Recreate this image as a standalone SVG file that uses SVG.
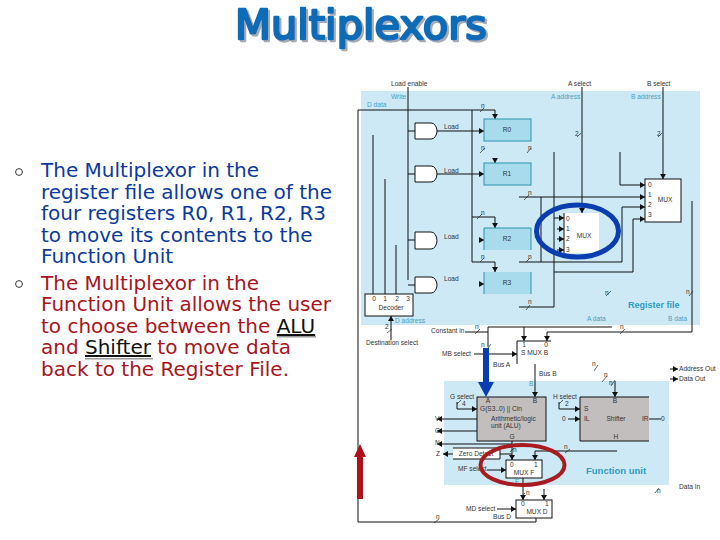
<svg xmlns="http://www.w3.org/2000/svg" width="720" height="540" viewBox="0 0 720 540">
<style>
.c{fill:none;stroke:#111;stroke-width:1}
.s{fill:none;stroke:#222;stroke-width:.7}
.gate{fill:#fff;stroke:#111;stroke-width:1}
.reg{fill:#a8dcec;stroke:#2a93a8;stroke-width:1}
.box{fill:#fff;stroke:#111;stroke-width:1}
.gray{fill:#c2bebe;stroke:#111;stroke-width:1}
.t{font-family:"Liberation Sans",Arial,sans-serif;font-size:6.6px;fill:#333}
.m{text-anchor:middle}
.b{fill:#4a9cc0}
.body{font-family:"DejaVu Sans",Verdana,sans-serif;font-size:20px}
.blue{fill:#0b3a9e}
.red{fill:#a8141c}
.bl{fill:none;stroke:#333;stroke-width:1}
.title{font-family:"DejaVu Sans",sans-serif;font-size:41px;stroke-linejoin:round;fill:#0f6cb8;stroke:#0f6cb8;stroke-width:2.4}
</style>
<defs>
<marker id="a" markerUnits="userSpaceOnUse" markerWidth="6" markerHeight="6" refX="5" refY="3" orient="auto"><path d="M0 0L5 3L0 6Z" fill="#111"/></marker>
<filter id="sh" x="-5%" y="-20%" width="110%" height="140%"><feDropShadow dx="2" dy="2" stdDeviation="0.6" flood-color="#a8acb0"/></filter>
</defs>
<rect width="720" height="540" fill="#fff"/>
<g id="title">
<text x="235" y="39" class="title" filter="url(#sh)" textLength="252" lengthAdjust="spacingAndGlyphs">Multiplexors</text>
</g>
<g id="bullets">
<circle cx="19" cy="172" r="3.4" class="bl"/><circle cx="19" cy="284" r="3.4" class="bl"/>
<rect x="277" y="336" width="39" height="1.500" fill="#999"/><rect x="85" y="358" width="68" height="1.500" fill="#999"/>
<text class="body blue" x="41" y="177">The Multiplexor in the</text>
<text class="body blue" x="41" y="199">register file allows one of the</text>
<text class="body blue" x="41" y="220">four registers R0, R1, R2, R3</text>
<text class="body blue" x="41" y="242">to move its contents to the</text>
<text class="body blue" x="41" y="263">Function Unit</text>
<text class="body red" x="41" y="290">The Multiplexor in the</text>
<text class="body red" x="41" y="311">Function Unit allows the user</text>
<text class="body red" x="41" y="333">to choose between the <tspan fill="#111" text-decoration="underline">ALU</tspan></text>
<text class="body red" x="41" y="354">and <tspan fill="#111" text-decoration="underline">Shifter</tspan> to move data</text>
<text class="body red" x="41" y="376">back to the Register File.</text>
</g>
<rect id="register-panel" x="361" y="91" width="339" height="234" fill="#cde9f6"/>
<rect id="function-panel" x="444" y="381" width="225" height="104" fill="#cde9f6"/>
<g id="connectors">
<path class="c" d="M408 87V280M408 131H415M408 174H415M408 240H415M408 285H415"/>
<path class="c" d="M495 110H358V522H536V518"/>
<path class="c" d="M472 110V262H495M472 217H495"/>
<path class="c" marker-end="url(#a)" d="M495 110V119"/><path class="c" marker-end="url(#a)" d="M495 158V163"/>
<path class="c" marker-end="url(#a)" d="M495 217V228"/><path class="c" marker-end="url(#a)" d="M495 262V272"/>
<path class="c" marker-end="url(#a)" d="M437 131H484"/><path class="c" marker-end="url(#a)" d="M437 174H484"/>
<path class="c" marker-end="url(#a)" d="M480 240H484"/><path class="c" marker-end="url(#a)" d="M480 284H484"/>
<path class="c" d="M373 135V294M385 179V294M396 245V294"/>
<path class="c" marker-end="url(#a)" d="M391 340V316"/>
<path class="c" marker-end="url(#a)" d="M582 87V213"/><path class="c" marker-end="url(#a)" d="M663 87V179"/>
<path class="c" marker-end="url(#a)" d="M519 197H645"/>
<path class="c" marker-end="url(#a)" d="M620 152V185H645"/>
<path class="c" marker-end="url(#a)" d="M519 262H622V207H645"/>
<path class="c" marker-end="url(#a)" d="M554 272H633V219H645"/>
<path class="c" d="M519 307H554V152M541 197V262"/>
<path class="c" marker-end="url(#a)" d="M554 218H564"/><path class="c" marker-end="url(#a)" d="M557 229H564"/>
<path class="c" marker-end="url(#a)" d="M557 239H564"/><path class="c" marker-end="url(#a)" d="M557 250H564"/>
<path class="c" d="M465 332H488"/>
<path class="c" d="M488 347V327H612"/><path class="c" marker-end="url(#a)" d="M524 327V341"/>
<path class="c" marker-end="url(#a)" d="M692 201V332H547V341"/>
<path class="c" marker-end="url(#a)" d="M474 354H517"/>
<path class="c" marker-end="url(#a)" d="M535 364V397"/>
<path class="c" marker-end="url(#a)" d="M615 381V397"/>
<path class="c" marker-end="url(#a)" d="M457 402V409H477"/><path class="c" marker-end="url(#a)" d="M559 402V409H580"/>
<path class="c" marker-end="url(#a)" d="M568 419H580"/><path class="c" d="M648 419H661"/>
<path class="c" marker-end="url(#a)" d="M477 419H437"/><path class="c" marker-end="url(#a)" d="M477 431H437"/>
<path class="c" marker-end="url(#a)" d="M512 444H437"/><path class="c" marker-end="url(#a)" d="M453 454H443"/>
<path class="c" marker-end="url(#a)" d="M512 441V460"/><path class="c" d="M500 454H512"/>
<path class="c" marker-end="url(#a)" d="M617 451H535V460"/>
<path class="c" marker-end="url(#a)" d="M487 470H506"/>
<path class="c" marker-end="url(#a)" d="M523 478V500"/><path class="c" marker-end="url(#a)" d="M544 489V500"/>
<path class="c" marker-end="url(#a)" d="M497 509H516"/>
<path class="c" marker-end="url(#a)" d="M670 369H678"/><path class="c" marker-end="url(#a)" d="M670 379H678"/>
<path class="s" d="M480 112L484 108M480 153L485 148M527 153L531 148M577 137L581 133M658 137L662 133M477 219L482 214M480 262L484 258M526 262L530 258M524 200L529 195M526 310L530 305M606 296L611 291M689 296L693 291M475 334L480 329M620 334L625 329M488 348L491 344M387 333L392 329M594 371L598 365M602 382L607 376M611 386L615 380M457 404L461 400M559 404L563 400M510 452L514 448M565 453L570 449M521 497L525 493M434 523L439 519M655 493L659 488"/>
</g>
<g id="gate-0"><path class="gate" d="M415 123H431A6 8 0 0 1 431 139H415Z"/></g>
<g id="gate-1"><path class="gate" d="M415 166H431A6 8 0 0 1 431 182H415Z"/></g>
<g id="gate-2"><path class="gate" d="M415 232H431A6 8.500 0 0 1 431 249H415Z"/></g>
<g id="gate-3"><path class="gate" d="M415 277H431A6 8 0 0 1 431 293H415Z"/></g>
<g id="r0"><rect class="reg" x="484" y="119" width="47" height="22"/><text class="t m" x="507" y="132">R0</text></g>
<g id="r1"><rect class="reg" x="484" y="163" width="47" height="22"/><text class="t m" x="507" y="176">R1</text></g>
<g id="r2"><rect x="484" y="228" width="47" height="22" fill="#a8dcec"/><path class="reg" d="M484 250V228H531V250" style="fill:none"/><text class="t m" x="507" y="241">R2</text></g>
<g id="r3"><rect x="484" y="272" width="47" height="22" fill="#a8dcec"/><path class="reg" d="M484 294V272M531 272V294" style="fill:none"/><text class="t m" x="507" y="285">R3</text></g>
<g id="decoder"><rect class="box" x="365" y="294" width="48" height="22"/>
<text class="t m" x="374" y="301">0</text><text class="t m" x="385" y="301">1</text><text class="t m" x="397" y="301">2</text><text class="t m" x="408" y="301">3</text>
<text class="t m" x="391" y="310">Decoder</text></g>
<g id="mux-a"><rect x="564" y="213" width="35" height="40" fill="#fff"/><path class="c" d="M564 213V253"/>
<text class="t" x="566" y="221">0</text><text class="t" x="566" y="231">1</text><text class="t" x="566" y="241">2</text><text class="t" x="566" y="252">3</text>
<text class="t m" x="584" y="238">MUX</text></g>
<g id="mux-b-reg"><rect class="box" x="645" y="179" width="36" height="43"/>
<text class="t" x="648" y="187">0</text><text class="t" x="648" y="197">1</text><text class="t" x="648" y="207">2</text><text class="t" x="648" y="217">3</text>
<text class="t m" x="665" y="202">MUX</text></g>
<g id="mux-b"><path class="c" d="M551 341H517V364"/><text class="t m" x="524" y="347">1</text><text class="t m" x="546" y="347">0</text><text class="t" x="521" y="355">S  MUX B</text></g>
<g id="alu"><rect class="gray" x="477" y="397" width="69" height="44"/>
<text class="t" x="480" y="411">G(S3..0) || Cin</text><text class="t" x="491" y="421">Arithmetic/logic</text><text class="t" x="491" y="428">unit (ALU)</text><text class="t m" x="512" y="439">G</text><text class="t m" x="488" y="403">A</text><text class="t m" x="535" y="403">B</text></g>
<g id="shifter"><rect x="580" y="397" width="69" height="44" fill="#c2bebe"/><path class="c" d="M649 397H580V441H649"/>
<text class="t" x="584" y="411">S</text><text class="t" x="584" y="421">IL</text><text class="t m" x="616" y="421">Shifter</text><text class="t" x="642" y="421">IR</text><text class="t m" x="616" y="439">H</text><text class="t m" x="615" y="403">B</text></g>
<g id="zero-detect"><rect x="453" y="448" width="47" height="11" fill="#fff"/><path class="c" d="M453 448H500V459H453"/><text class="t m" x="476" y="456">Zero Detect</text></g>
<g id="mux-f"><rect class="box" x="506" y="460" width="36" height="18"/><text class="t" x="510" y="467">0</text><text class="t" x="534" y="467">1</text><text class="t m" x="524" y="475">MUX F</text></g>
<g id="mux-d"><rect class="box" x="516" y="500" width="36" height="18"/><text class="t" x="521" y="506">0</text><text class="t" x="545" y="506">1</text><text class="t m" x="537" y="514">MUX D</text></g>
<g id="labels">
<text class="t" x="391" y="86">Load enable</text><text class="t" x="568" y="86">A select</text><text class="t" x="647" y="86">B select</text>
<text class="t b" x="391" y="99">Write</text><text class="t b" x="367" y="107">D data</text><text class="t b" x="551" y="99">A address</text><text class="t b" x="631" y="99">B address</text>
<text class="t" x="444" y="129">Load</text><text class="t" x="444" y="173">Load</text><text class="t" x="444" y="239">Load</text><text class="t" x="444" y="281">Load</text>
<text class="t" x="481" y="108">n</text><text class="t" x="481" y="150">n</text><text class="t" x="528" y="150">n</text><text class="t" x="528" y="195">n</text><text class="t" x="481" y="215">n</text><text class="t" x="481" y="259">n</text><text class="t" x="528" y="259">n</text><text class="t" x="528" y="304">n</text><text class="t" x="605" y="295">n</text><text class="t" x="686" y="294">n</text>
<text class="t" x="575" y="136">2</text><text class="t" x="657" y="136">2</text><text class="t" x="385" y="329">2</text>
<text style="font-family:'Liberation Sans',sans-serif;font-size:9px;font-weight:bold" fill="#2f9cc4" x="628" y="308">Register file</text>
<text class="t b" x="395" y="323">D address</text><text class="t b" x="587" y="321">A data</text><text class="t b" x="668" y="321">B data</text>
<text class="t" x="366" y="345">Destination select</text><text class="t" x="431" y="333">Constant in</text>
<text class="t" x="475" y="329">n</text><text class="t" x="620" y="329">n</text><text class="t" x="481" y="347">n</text>
<text class="t" x="442" y="356">MB select</text><text class="t" x="493" y="367">Bus A</text><text class="t" x="539" y="376">Bus B</text>
<text class="t" x="592" y="366">n</text><text class="t" x="604" y="377">n</text><text class="t" x="609" y="385">n</text>
<text class="t" x="679" y="371">Address Out</text><text class="t" x="679" y="381">Data Out</text><text class="t" x="679" y="489">Data In</text>
<text class="t b" x="529" y="386">B</text>
<text class="t" x="450" y="399">G select</text><text class="t" x="553" y="399">H select</text><text class="t" x="462" y="406">4</text><text class="t" x="565" y="406">2</text>
<text class="t" x="562" y="421">0</text><text class="t" x="661" y="421">0</text>
<text class="t" x="435" y="421">V</text><text class="t" x="435" y="433">C</text><text class="t" x="435" y="445">N</text><text class="t" x="436" y="456">Z</text>
<text class="t" x="513" y="452">n</text><text class="t" x="564" y="449">n</text>
<text class="t" x="458" y="471">MF select</text>
<text style="font-family:'Liberation Sans',sans-serif;font-size:9.500px;font-weight:bold" fill="#2f9cc4" x="586" y="474">Function unit</text>
<text class="t b" x="515" y="484">F</text><text class="t" x="526" y="495">n</text><text class="t" x="466" y="511">MD select</text><text class="t" x="493" y="519">Bus D</text><text class="t" x="436" y="519">n</text><text class="t" x="657" y="493">n</text>
</g>
<g id="highlights">
<ellipse cx="577.500" cy="231" rx="41" ry="26" fill="none" stroke="#0a3db0" stroke-width="5"/>
<ellipse cx="522.500" cy="465" rx="42" ry="20" fill="none" stroke="#a81c20" stroke-width="4"/>
<path fill="#0a3db0" d="M483 348H489V382H494L486 397L478 382H483Z"/>
<path fill="#b01018" d="M357 499V457H354L360 444L366 457H363V499Z"/>
</g>
</svg>
